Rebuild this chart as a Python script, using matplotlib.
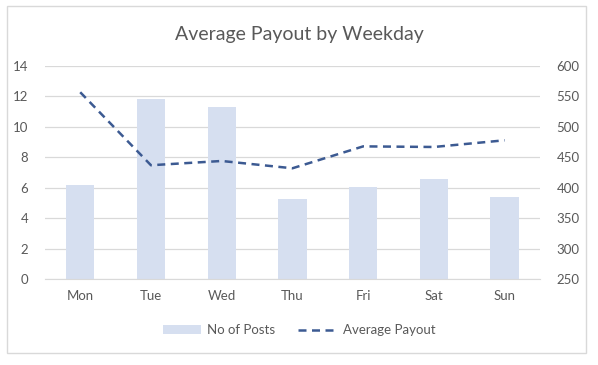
import numpy as np
import matplotlib.pyplot as plt
from matplotlib.patches import Rectangle

days = ['Mon', 'Tue', 'Wed', 'Thu', 'Fri', 'Sat', 'Sun']
posts = [6.2, 11.85, 11.3, 5.25, 6.05, 6.6, 5.4]
payout = [557, 437, 444, 432, 468, 467, 478]

plt.rcParams['font.family'] = ['Lato', 'DejaVu Sans']

fig = plt.figure(figsize=(5.98, 3.65), dpi=100)
ax = fig.add_axes([0.075, 0.2356, 0.828, 0.5834])
ax2 = ax.twinx()

x = np.arange(len(days))
ax.bar(x, posts, width=0.4, color='#D6DFF0', label='No of Posts', zorder=2)
ax2.plot(x, payout, color='#3C5A92', lw=1.8, ls=(0, (3.2, 2.2)), label='Average Payout', zorder=3)

ax.set_xlim(-0.5, 6.5)
ax.set_ylim(0, 14)
ax.set_yticks(range(0, 15, 2))
ax2.set_ylim(250, 600)
ax2.set_yticks(range(250, 601, 50))
ax.set_xticks(x)
ax.set_xticklabels(days)

ax.grid(axis='y', color='#D9D9D9', lw=0.9, zorder=0)
ax.set_axisbelow(True)
for a in (ax, ax2):
    for s in a.spines.values():
        s.set_visible(False)
    a.tick_params(length=0, labelsize=9.5, colors='#595959')
ax.spines['bottom'].set_visible(True)
ax.spines['bottom'].set_color('#D9D9D9')
ax.tick_params(axis='y', pad=12)
ax.tick_params(axis='x', pad=8)
ax2.tick_params(axis='y', pad=12)

fig.text(0.5, 0.905, 'Average Payout by Weekday', ha='center', va='center',
         fontsize=14, color='#595959')

h1, l1 = ax.get_legend_handles_labels()
h2, l2 = ax2.get_legend_handles_labels()
fig.legend(h1 + h2, l1 + l2, loc='center', bbox_to_anchor=(0.5, 0.095), ncol=2,
           frameon=False, fontsize=9.5, labelcolor='#595959', handlelength=2.9,
           handletextpad=0.5, columnspacing=1.7)

fig.patches.append(Rectangle((0.012, 0.033), 0.968, 0.95, transform=fig.transFigure,
                             fill=False, edgecolor='#D9D9D9', lw=1))

fig.savefig('out.png', dpi=100)
